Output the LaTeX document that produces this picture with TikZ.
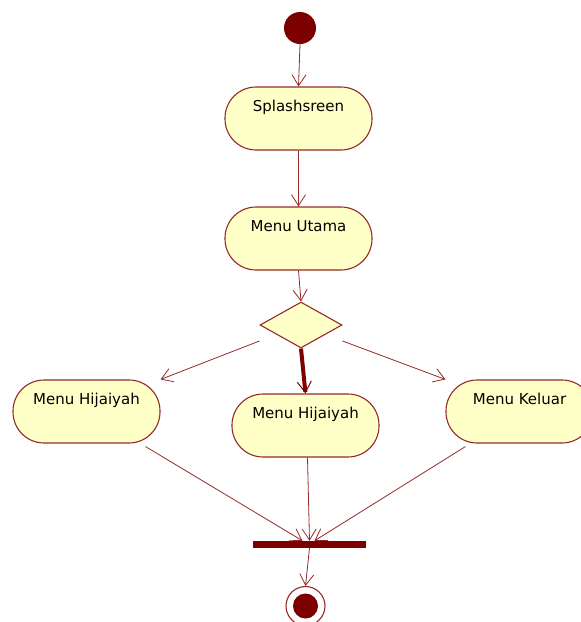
\documentclass[tikz,border=0pt]{standalone}
\usepackage{fontspec}
\setmainfont{DejaVu Sans}
\usetikzlibrary{shapes.geometric,arrows.meta}
\definecolor{actline}{RGB}{150,40,40}
\definecolor{actfill}{RGB}{255,255,200}
\definecolor{actdark}{RGB}{125,0,0}

\begin{document}
\begin{tikzpicture}[x=1pt,y=-1pt,
    action/.style={rectangle, rounded corners=31pt, draw=actline, fill=actfill, line width=1.1pt,
        minimum width=147pt, minimum height=63pt, text height=11pt, text depth=25pt,
        font=\fontsize{15}{18}\selectfont},
    flow/.style={draw=actline, line width=0.8pt, -{Straight Barb[length=11pt,width=14pt]}}]
        \useasboundingbox (0,0) rectangle (581,622);

        \node[circle, fill=actdark, minimum size=32pt, inner sep=0pt] (start) at (300,28) {};
        \node[action] (splash) at (298.5,118.5) {Splashsreen};
        \node[action] (utama) at (298.5,238.5) {Menu Utama};
        \node[diamond, draw=actline, fill=actfill, line width=1.1pt, minimum width=82pt,
            minimum height=46pt, inner sep=0pt] (pilih) at (301,325) {};
        \node[action] (hijaiyahA) at (86.5,411.5) {Menu Hijaiyah};
        \node[action] (hijaiyahB) at (305.5,425.5) {Menu Hijaiyah};
        \node[action] (keluar) at (519.5,411.5) {Menu Keluar};
        \node[rectangle, fill=actdark, minimum width=113pt, minimum height=7pt, inner sep=0pt] (gabung) at (309.5,544.5) {};
        \node[circle, draw=actline, fill=white, line width=1.1pt, minimum size=39pt, inner sep=0pt] (akhir) at (305.5,606) {};
        \node[circle, fill=actdark, minimum size=25pt, inner sep=0pt] (akhirdot) at (akhir.center) {};

        \draw[flow] (start.south) -- (splash.north);
        \draw[flow] (splash.south) -- (utama.north);
        \draw[flow] (utama.south) -- (pilih.north);
        \draw[flow] ([yshift=-16pt]pilih.west) -- (hijaiyahA.north east);
        \draw[flow, draw=actdark, line width=4pt, -{Straight Barb[length=11pt,width=14pt,line width=1pt]}] (pilih.south) -- (hijaiyahB.north);
        \draw[flow] ([yshift=-16pt]pilih.east) -- (keluar.north west);
        \draw[flow] ([xshift=-15pt,yshift=-3pt]hijaiyahA.south east) -- ([xshift=-7pt]gabung.north);
        \draw[flow] ([xshift=2pt]hijaiyahB.south) -- (gabung.north);
        \draw[flow] ([xshift=20pt,yshift=-3pt]keluar.south west) -- ([xshift=5pt]gabung.north);
        \draw[flow] (gabung.south) -- (akhir.north);

    \end{tikzpicture}
\end{document}
